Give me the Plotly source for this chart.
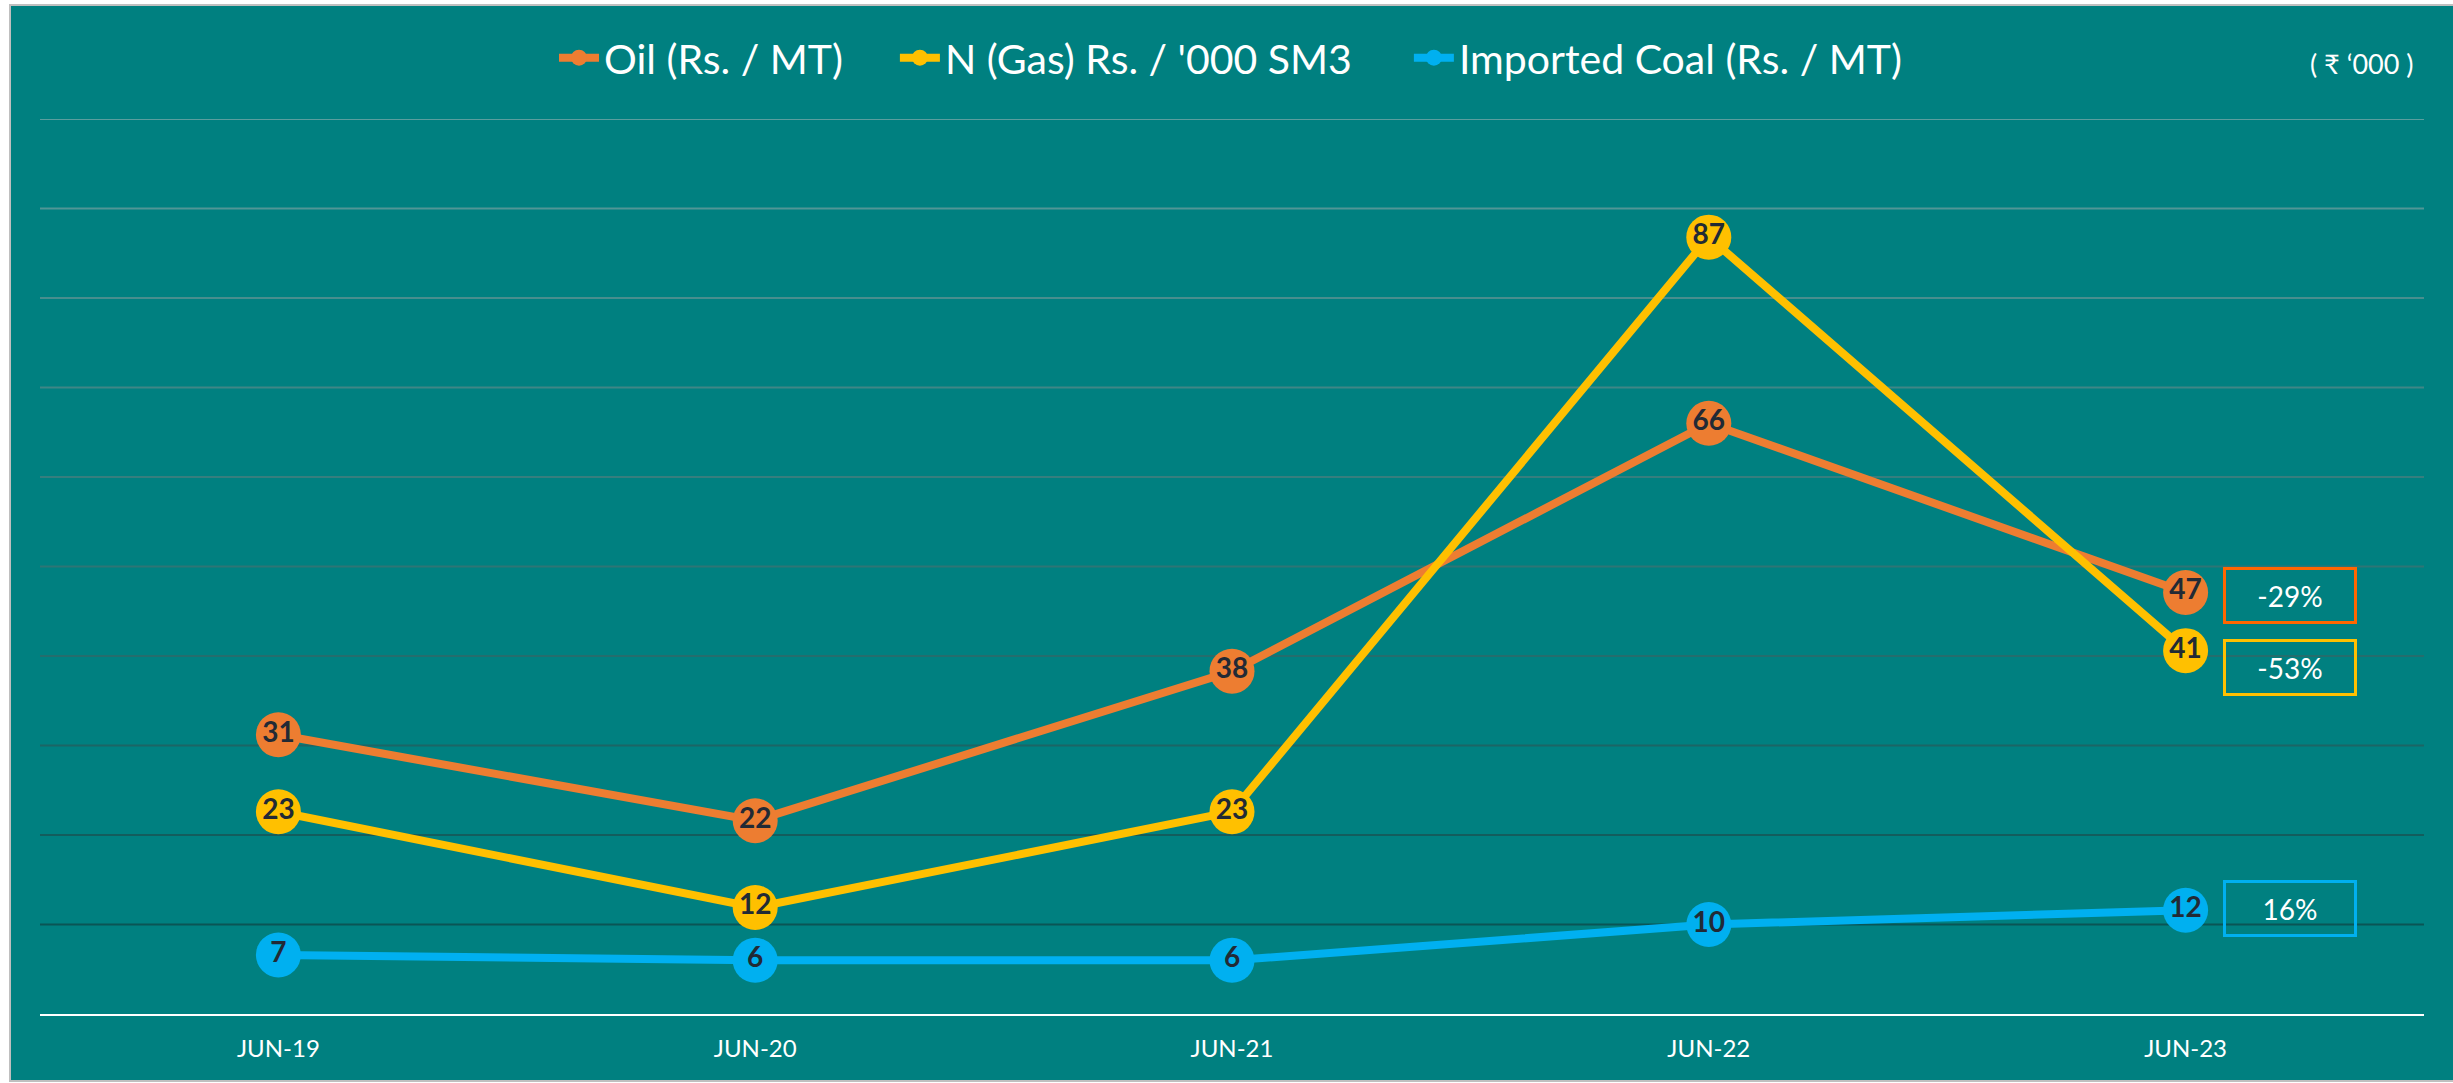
import plotly.graph_objects as go

# ---- data ----
categories = ["JUN-19", "JUN-20", "JUN-21", "JUN-22", "JUN-23"]
oil = [31.2, 21.6, 38.3, 66.0, 47.1]
gas = [22.6, 11.9, 22.6, 86.8, 40.6]
coal = [6.6, 6.0, 6.0, 10.0, 11.6]
series_names = ["Oil (Rs. / MT)", "N (Gas) Rs. / '000 SM3", "Imported Coal (Rs. / MT)"]
change_labels = ["-29%", "-53%", "16%"]
grid_values = [10, 20, 30, 40, 50, 60, 70, 80, 90, 100]
unit_label = "( ₹ ‘000 )"

# ---- style ----
FONT = "Lato"
BG = "#008080"
line_colors = ["#ED7D31", "#FFC000", "#00B0F0"]
box_colors = ["#FF6600", "#FFC000", "#00B0F0"]
box_yshift = [-3, -17, 2]
legend_x = [0.2156, 0.3586, 0.5742]

# plot area geometry in page pixels
PL, PR, PT, PB = 40, 2424, 119, 1014
PW, PH = PR - PL, PB - PT

fig = go.Figure()
for i, (name, vals, col) in enumerate(zip(series_names, [oil, gas, coal], line_colors)):
    fig.add_trace(go.Scatter(
        x=categories, y=vals, name=name, mode="lines+markers+text",
        line=dict(color=col, width=8),
        marker=dict(color=col, size=45, line=dict(width=0)),
        texttemplate="%{y:.0f}", textposition="middle center",
        textfont=dict(family=FONT, size=28, color="#222A35", weight="bold"),
        cliponaxis=False, hoverinfo="skip",
        legend="legend" if i == 0 else "legend%d" % (i + 1),
    ))

def mix(c1, c2, t):
    return "#%02x%02x%02x" % tuple(int(round(a + (b - a) * t)) for a, b in zip(c1, c2))

light = (0x5A, 0x9E, 0x9E)
dark = (0x0A, 0x55, 0x55)
shapes = []
# page frame
shapes.append(dict(type="rect", xref="paper", yref="paper",
                   x0=(10 - PL) / PW, x1=(2460 - PL) / PW,
                   y0=(PB - 1081) / PH, y1=(PB - 5) / PH,
                   fillcolor=BG, line=dict(color="#BFBFBF", width=2), layer="below"))
gmax, gmin = max(grid_values), min(grid_values)
for g in grid_values:
    t = (gmax - g) / (gmax - gmin)
    shapes.append(dict(type="line", xref="paper", yref="y", x0=0, x1=1, y0=g, y1=g,
                       line=dict(color=mix(light, dark, t), width=2), layer="below"))

annotations = []
for lbl, vals, col, ys in zip(change_labels, [oil, gas, coal], box_colors, box_yshift):
    annotations.append(dict(
        x=categories[-1], y=vals[-1], xref="x", yref="y", text=lbl, showarrow=False,
        xshift=104, yshift=ys, width=126, height=49, borderpad=1,
        bordercolor=col, borderwidth=3,
        font=dict(family=FONT, size=28, color="white"), align="center", valign="middle",
    ))
annotations.append(dict(
    x=(2362 - PL) / PW, y=(PB - 64) / PH, xref="paper", yref="paper",
    xanchor="center", yanchor="middle", text=unit_label, showarrow=False,
    font=dict(family=FONT, size=27, color="white"),
))

legend_common = dict(orientation="h", xanchor="left", yanchor="middle",
                     y=(PB - 58) / PH, font=dict(family=FONT, size=41, color="white"),
                     bgcolor="rgba(0,0,0,0)", itemwidth=40)

fig.update_layout(
    width=2453, height=1083,
    margin=dict(l=PL, r=2453 - PR, t=PT, b=1083 - PB),
    paper_bgcolor="white", plot_bgcolor="rgba(0,0,0,0)",
    font=dict(family=FONT, color="white"),
    showlegend=True,
    legend=dict(x=legend_x[0], **legend_common),
    legend2=dict(x=legend_x[1], **legend_common),
    legend3=dict(x=legend_x[2], **legend_common),
    shapes=shapes, annotations=annotations,
    xaxis=dict(type="category", range=[-0.5, 4.5], showgrid=False, zeroline=False,
               showline=True, linecolor="white", linewidth=2, ticks="",
               tickfont=dict(family=FONT, size=24, color="white"), ticklabelstandoff=12),
    yaxis=dict(range=[0, 100], showgrid=False, zeroline=False, showticklabels=False,
               showline=False),
)

fig.write_html("out.html", config={"displayModeBar": False},
               post_script="document.body.style.margin='0';")
